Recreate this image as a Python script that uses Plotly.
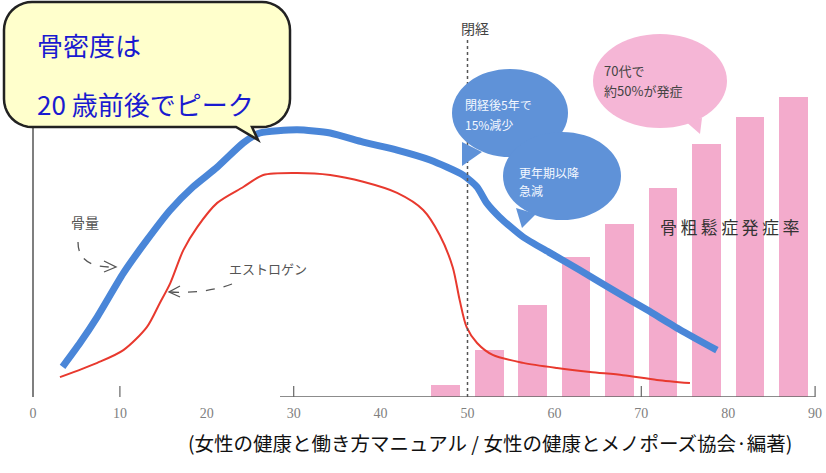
import math
import plotly.graph_objects as go

# ---------------- data ----------------
BONE_AGE = [3.4, 5.4, 7.4, 10.4, 13.1, 15.8, 18.4, 21.2, 24.2, 26.1, 30.4, 34.2, 38.0, 41.9,
            45.7, 49.5, 51.1, 52.2, 53.7, 56.4, 59.5, 62.9, 66.7, 70.7, 74.5, 78.7]
BONE_MASS = [7.6, 13.6, 20.2, 31.2, 39.5, 47.1, 52.9, 57.9, 64.0, 66.5, 67.3, 66.5, 64.2, 62.2,
             59.7, 55.9, 52.9, 48.9, 45.3, 40.3, 36.3, 32.0, 27.0, 21.9, 16.9, 11.8]

EST_AGE = [3.1, 7.4, 10.4, 13.1, 14.6, 15.8, 17.3, 18.9, 21.2, 24.2, 26.5, 30.4, 34.2, 38.0,
           41.9, 44.9, 46.8, 48.3, 49.1, 49.9, 51.1, 52.9, 56.4, 60.3, 64.1, 67.9, 71.8, 75.6]
EST_LEVEL = [5.0, 8.6, 11.8, 17.6, 23.7, 28.7, 37.0, 42.8, 48.9, 52.9, 55.9, 56.4, 55.9, 54.2,
             51.4, 47.1, 40.8, 32.7, 24.4, 17.6, 13.6, 10.6, 8.6, 7.3, 6.3, 5.5, 4.3, 3.5]

BAR_AGES = [47.5, 52.5, 57.5, 62.5, 67.5, 72.5, 77.5, 82.5, 87.5]
BAR_RATE = [3.0, 11.8, 23.2, 35.3, 43.6, 52.6, 63.7, 70.5, 75.6]

TICK_VALS = [0, 10, 20, 30, 40, 50, 60, 70, 80, 90]
TICK_TEXT = ["0", "10", "20", "30", "40", "50", "60", "70", "80", "90"]
TICK_MARKS = [10, 30, 70, 90]
MENOPAUSE_AGE = 50

# ---------------- page geometry helpers ----------------
W, H = 826, 473
X0PX, PXYR = 33.0, 8.69     # pixel of age 0, pixels per year
BASE, PXU = 397.0, 3.97     # pixel of baseline, pixels per value unit


def dx(px):
    return (px - X0PX) / PXYR


def dy(py):
    return (BASE - py) / PXU


def path_from_px(pts, close=True):
    s = "M " + " L ".join(f"{dx(x):.4f},{dy(y):.4f}" for x, y in pts)
    return s + (" Z" if close else "")


def arc(cx, cy, r, a0, a1, n=10):
    return [(cx + r * math.cos(math.radians(a0 + (a1 - a0) * i / n)),
             cy + r * math.sin(math.radians(a0 + (a1 - a0) * i / n))) for i in range(n + 1)]


JP = "Noto Sans CJK JP"

fig = go.Figure()
fig.add_trace(go.Bar(x=BAR_AGES, y=BAR_RATE, width=3.3,
                     marker=dict(color="#f3abcc", line=dict(width=0)), hoverinfo="skip"))
fig.add_trace(go.Scatter(x=BONE_AGE, y=BONE_MASS, mode="lines",
                         line=dict(color="#4a86d8", width=7, shape="spline", smoothing=0.6)))
fig.add_trace(go.Scatter(x=EST_AGE, y=EST_LEVEL, mode="lines",
                         line=dict(color="#e8392e", width=2, shape="spline", smoothing=0.8)))

shapes = []
# axes lines
shapes.append(dict(type="line", x0=0, x1=0, y0=0, y1=dy(128), line=dict(color="#555", width=1.5)))
shapes.append(dict(type="line", x0=dx(280), x1=90, y0=0, y1=0, line=dict(color="#666", width=1.5)))
for t in TICK_MARKS:
    shapes.append(dict(type="line", x0=t, x1=t, y0=0, y1=dy(386), line=dict(color="#666", width=1.2)))
# menopause dotted line
shapes.append(dict(type="line", x0=MENOPAUSE_AGE, x1=MENOPAUSE_AGE, y0=0, y1=dy(40),
                   line=dict(color="#555", width=1.5, dash="dot")))

# yellow callout
r = 28
L, T, R, B = 4, 2, 290, 127
pts = []
pts += arc(L + r, T + r, r, 180, 270)
pts += arc(R - r, T + r, r, 270, 360)
pts += arc(R - r, B - r, r, 0, 90)
pts += [(252, B), (258, 140), (236, B)]
pts += arc(L + r, B - r, r, 90, 180)
shapes.append(dict(type="path", path=path_from_px(pts), fillcolor="#ffffcc",
                   line=dict(color="#222", width=2.5), layer="above"))

# blue bubbles
BLUE_B = "#5f92d8"
for (cx, cy, rx, ry) in [(510, 113, 58, 44), (562, 176, 59, 44)]:
    shapes.append(dict(type="circle", x0=dx(cx - rx), x1=dx(cx + rx), y0=dy(cy + ry), y1=dy(cy - ry),
                       fillcolor=BLUE_B, line=dict(width=0), layer="above"))
shapes.append(dict(type="path", path=path_from_px([(462, 142), (482, 152), (462, 166)]),
                   fillcolor=BLUE_B, line=dict(width=0), layer="above"))
shapes.append(dict(type="path", path=path_from_px([(516, 208), (536, 214), (522, 228)]),
                   fillcolor=BLUE_B, line=dict(width=0), layer="above"))
# pink bubble
PINK_B = "#f5b6d6"
shapes.append(dict(type="circle", x0=dx(593), x1=dx(727), y0=dy(128), y1=dy(34),
                   fillcolor=PINK_B, line=dict(width=0), layer="above"))
shapes.append(dict(type="path", path=path_from_px([(684, 120), (702, 118), (700, 134)]),
                   fillcolor=PINK_B, line=dict(width=0), layer="above"))

# dashed arrows
shapes.append(dict(type="path", path=f"M {dx(78)},{dy(242)} Q {dx(78)},{dy(268)} {dx(114)},{dy(267)}",
                   line=dict(color="#555", width=1.3, dash="dash")))
shapes.append(dict(type="path", path=path_from_px([(104, 261), (116, 267), (104, 272)], close=False),
                   line=dict(color="#555", width=1.3)))
shapes.append(dict(type="path", path=f"M {dx(232)},{dy(284)} Q {dx(205)},{dy(294)} {dx(170)},{dy(292)}",
                   line=dict(color="#555", width=1.3, dash="dash")))
shapes.append(dict(type="path", path=path_from_px([(180, 286), (169, 292), (180, 297)], close=False),
                   line=dict(color="#555", width=1.3)))


def txt(x, y, s, size, color, anchor="left", family=JP):
    return dict(x=dx(x), y=dy(y), xref="x", yref="y", text=s, showarrow=False,
                xanchor=anchor, yanchor="middle", font=dict(family=family, size=size, color=color))


TS = "\u2009"
annos = [
    txt(35, 44, "骨密度は", 26, "#1a1ad0"),
    txt(35, 103, "20 歳前後でピーク", 26, "#1a1ad0"),
    txt(475, 28, "閉経", 14, "#444", "center"),
    txt(463, 104, "閉経後5年で", 12, "#f4f8ff"),
    txt(463, 124, "15%減少", 12, "#f4f8ff"),
    txt(517, 172, "更年期以降", 12, "#f4f8ff"),
    txt(517, 190, "急減", 12, "#f4f8ff"),
    txt(602, 70, "70代で", 13, "#444"),
    txt(602, 90, "約50%が発症", 13, "#444"),
    txt(729, 226, TS.join("骨粗鬆症発症率"), 17, "#333", "center"),
    txt(85, 222, "骨量", 14, "#555", "center"),
    txt(268, 268, "エストロゲン", 13, "#555", "center"),
    dict(x=dx(490), y=(BASE - 442) / BASE, xref="x", yref="paper",
         text="(女性の健康と働き方マニュアル / 女性の健康とメノポーズ協会·編著)",
         showarrow=False, xanchor="center", yanchor="middle",
         font=dict(family=JP, size=19.5, color="#111")),
]

fig.update_layout(
    width=W, height=H, margin=dict(l=0, r=0, t=0, b=int(H - BASE)),
    paper_bgcolor="white", plot_bgcolor="white", showlegend=False,
    shapes=shapes, annotations=annos, bargap=0,
    xaxis=dict(range=[dx(0), dx(W)], tickvals=TICK_VALS, ticktext=TICK_TEXT, ticks="",
               ticklabelstandoff=6,
               showgrid=False, zeroline=False, showline=False,
               tickfont=dict(family="Liberation Serif", size=14, color="#808080")),
    yaxis=dict(range=[0, dy(0)], visible=False, showgrid=False, zeroline=False),
)

fig.write_html("out.html", config={"displayModeBar": False})

# remove default page margin so the figure sits at the window's top-left corner
with open("out.html", "r", encoding="utf-8") as f:
    html = f.read()
html = html.replace("<head>", "<head><style>html,body{margin:0;padding:0;overflow:hidden;}</style>", 1)
with open("out.html", "w", encoding="utf-8") as f:
    f.write(html)
